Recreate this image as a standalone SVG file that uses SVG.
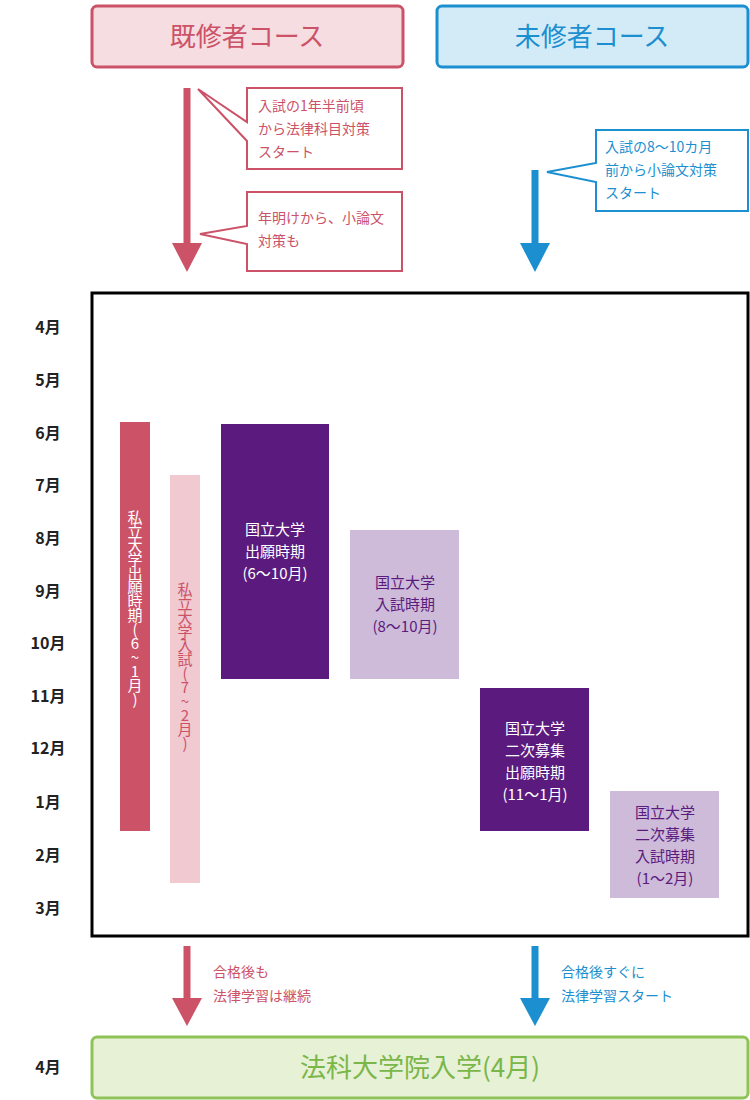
<svg xmlns="http://www.w3.org/2000/svg" width="750" height="1100" viewBox="0 0 750 1100">
<style>
text{font-family:"Noto Sans CJK JP","Noto Sans",sans-serif}
.m{font-size:16px;fill:#222;text-anchor:middle;font-weight:bold}
.pk{fill:#cc5268}.bl{fill:#1b8fd0}
.c{font-size:14px}
.w{fill:#fff;font-size:15px;text-anchor:middle}
.v{writing-mode:vertical-rl;text-orientation:upright;font-size:15px;letter-spacing:-1px}
</style>
<rect width="750" height="1100" fill="#fff"/>
<g id="hdr-kishu"><rect x="92" y="6" width="311" height="61" rx="5" fill="#f5dde2" stroke="#cc5268" stroke-width="3"/><text x="247" y="46" class="pk" font-size="26" text-anchor="middle">既修者コース</text></g>
<g id="hdr-mishu"><rect x="437" y="6" width="311" height="61" rx="5" fill="#d3ebf7" stroke="#1b8fd0" stroke-width="3"/><text x="592" y="46" class="bl" font-size="26" text-anchor="middle">未修者コース</text></g>
<g id="connectors">
<line x1="187" y1="88" x2="187" y2="245" stroke="#cc5268" stroke-width="7"/><polygon points="172,243 202,243 187,272" fill="#cc5268"/>
<line x1="535" y1="170" x2="535" y2="245" stroke="#1b8fd0" stroke-width="7"/><polygon points="520,243 550,243 535,272" fill="#1b8fd0"/>
<line x1="187" y1="946" x2="187" y2="1000" stroke="#cc5268" stroke-width="7"/><polygon points="172,998 202,998 187,1026" fill="#cc5268"/>
<line x1="535" y1="946" x2="535" y2="1000" stroke="#1b8fd0" stroke-width="7"/><polygon points="520,998 550,998 535,1026" fill="#1b8fd0"/>
</g>
<g id="note1"><path d="M247,88 H402 V169 H247 V141 L198,89 L247,122 Z" fill="#fff" stroke="#cc5268" stroke-width="2"/>
<text class="pk c" x="258"><tspan x="258" y="111">入試の1年半前頃</tspan><tspan x="258" y="134">から法律科目対策</tspan><tspan x="258" y="157">スタート</tspan></text></g>
<g id="note2"><path d="M247,192 H402 V271 H247 V244 L200,234 L247,226 Z" fill="#fff" stroke="#cc5268" stroke-width="2"/>
<text class="pk c"><tspan x="258" y="223">年明けから、小論文</tspan><tspan x="258" y="246">対策も</tspan></text></g>
<g id="note3"><path d="M596,130 H748 V211 H596 V182 L547,172 L596,163 Z" fill="#fff" stroke="#1b8fd0" stroke-width="2"/>
<text class="bl c"><tspan x="605" y="152">入試の8～10カ月</tspan><tspan x="605" y="175">前から小論文対策</tspan><tspan x="605" y="198">スタート</tspan></text></g>
<g id="months">
<text class="m" x="48" y="333">4月</text><text class="m" x="48" y="386">5月</text><text class="m" x="48" y="439">6月</text><text class="m" x="48" y="491">7月</text><text class="m" x="48" y="544">8月</text><text class="m" x="48" y="597">9月</text><text class="m" x="48" y="649">10月</text><text class="m" x="48" y="702">11月</text><text class="m" x="48" y="754">12月</text><text class="m" x="48" y="808">1月</text><text class="m" x="48" y="861">2月</text><text class="m" x="48" y="914">3月</text><text class="m" x="48" y="1073">4月</text>
</g>
<g id="frame"><rect x="92" y="293" width="656" height="643" fill="none" stroke="#000" stroke-width="3"/></g>
<g id="shiritsu-shutsugan"><rect x="120" y="422" width="30" height="409" fill="#cc5268"/><text class="v" x="135" y="510" fill="#fff">私立大学出願時期(6~1月)</text></g>
<g id="shiritsu-nyushi"><rect x="170" y="475" width="30" height="408" fill="#f0c9d1"/><text class="v" x="185" y="582" fill="#cc5268">私立大学入試(7~2月)</text></g>
<g id="kokuritsu-shutsugan"><rect x="221" y="424" width="108" height="255" fill="#5b1a7e"/><text class="w"><tspan x="275" y="535">国立大学</tspan><tspan x="275" y="557">出願時期</tspan><tspan x="275" y="579">(6～10月)</tspan></text></g>
<g id="kokuritsu-nyushi"><rect x="350" y="530" width="109" height="149" fill="#cdbbd9"/><text class="w" fill="#5b1a7e" style="fill:#5b1a7e"><tspan x="405" y="588">国立大学</tspan><tspan x="405" y="610">入試時期</tspan><tspan x="405" y="632">(8～10月)</tspan></text></g>
<g id="niji-shutsugan"><rect x="480" y="688" width="109" height="143" fill="#5b1a7e"/><text class="w"><tspan x="535" y="734">国立大学</tspan><tspan x="535" y="756">二次募集</tspan><tspan x="535" y="778">出願時期</tspan><tspan x="535" y="800">(11～1月)</tspan></text></g>
<g id="niji-nyushi"><rect x="610" y="791" width="109" height="107" fill="#cdbbd9"/><text class="w" style="fill:#5b1a7e"><tspan x="665" y="818">国立大学</tspan><tspan x="665" y="840">二次募集</tspan><tspan x="665" y="862">入試時期</tspan><tspan x="665" y="884">(1～2月)</tspan></text></g>
<g id="labels-bottom"><text class="pk c"><tspan x="213" y="977">合格後も</tspan><tspan x="213" y="1001">法律学習は継続</tspan></text>
<text class="bl c"><tspan x="561" y="977">合格後すぐに</tspan><tspan x="561" y="1001">法律学習スタート</tspan></text></g>
<g id="nyugaku"><rect x="92" y="1037" width="656" height="61" rx="5" fill="#e6f1d6" stroke="#8dc357" stroke-width="3"/><text x="420" y="1077" font-size="26" fill="#7ab648" text-anchor="middle">法科大学院入学(4月)</text></g>
</svg>
